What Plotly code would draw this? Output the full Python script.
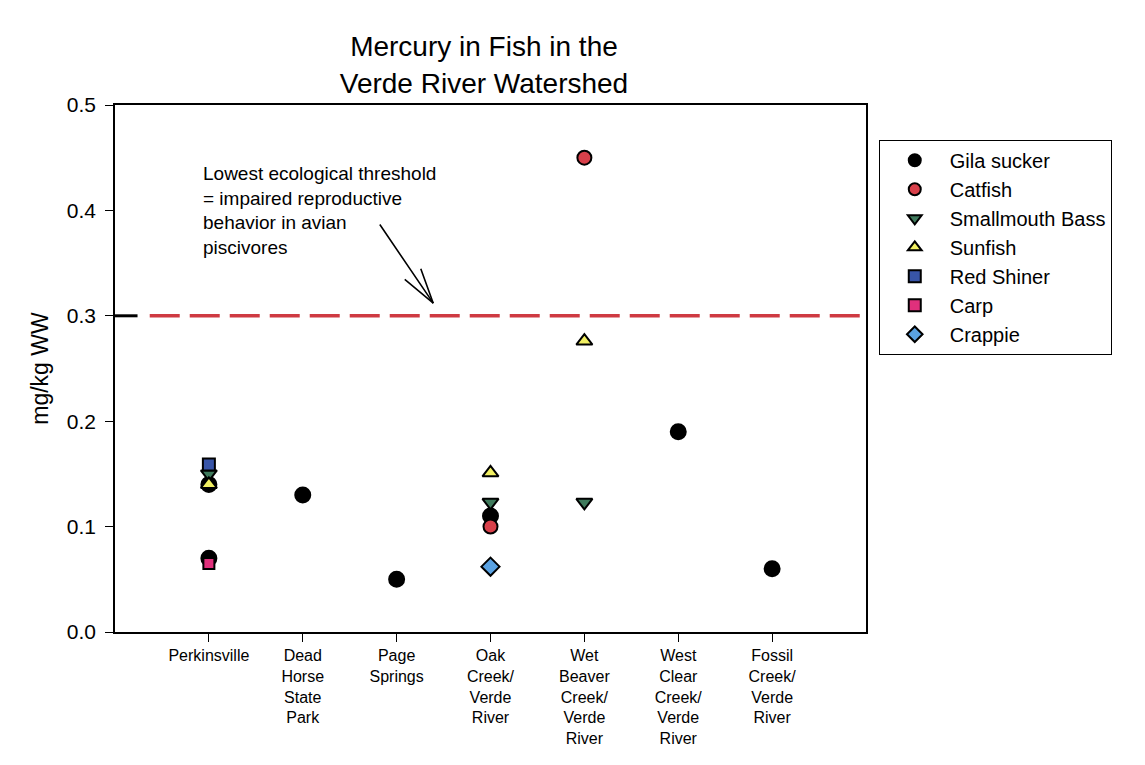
import plotly.graph_objects as go

sites = ["Perkinsville", "Dead Horse State Park", "Page Springs", "Oak Creek/Verde River",
         "Wet Beaver Creek/Verde River", "West Clear Creek/Verde River", "Fossil Creek/Verde River"]
site_labels = ["Perkinsville", "Dead<br>Horse<br>State<br>Park", "Page<br>Springs",
               "Oak<br>Creek/<br>Verde<br>River", "Wet<br>Beaver<br>Creek/<br>Verde<br>River",
               "West<br>Clear<br>Creek/<br>Verde<br>River", "Fossil<br>Creek/<br>Verde<br>River"]

gila_sites = ["Perkinsville", "Perkinsville", "Dead Horse State Park", "Page Springs",
              "Oak Creek/Verde River", "West Clear Creek/Verde River", "Fossil Creek/Verde River"]
gila_vals = [0.07, 0.14, 0.13, 0.05, 0.11, 0.19, 0.06]
catfish_sites = ["Oak Creek/Verde River", "Wet Beaver Creek/Verde River"]
catfish_vals = [0.10, 0.45]
bass_sites = ["Perkinsville", "Oak Creek/Verde River", "Wet Beaver Creek/Verde River"]
bass_vals = [0.15, 0.123, 0.123]
sunfish_sites = ["Perkinsville", "Oak Creek/Verde River", "Wet Beaver Creek/Verde River"]
sunfish_vals = [0.14, 0.151, 0.276]
shiner_sites = ["Perkinsville"]
shiner_vals = [0.159]
carp_sites = ["Perkinsville"]
carp_vals = [0.065]
crappie_sites = ["Oak Creek/Verde River"]
crappie_vals = [0.062]

threshold = 0.3

idx = {s: i for i, s in enumerate(sites)}

series = [
    ("Gila sucker", gila_sites, gila_vals, "circle", "#000000", 15),
    ("Catfish", catfish_sites, catfish_vals, "circle", "#d8404a", 14),
    ("Smallmouth Bass", bass_sites, bass_vals, "triangle-down", "#3f7a5c", 14),
    ("Sunfish", sunfish_sites, sunfish_vals, "triangle-up", "#f2f062", 14),
    ("Red Shiner", shiner_sites, shiner_vals, "square", "#3855a8", 12),
    ("Carp", carp_sites, carp_vals, "square", "#e0307c", 11),
    ("Crappie", crappie_sites, crappie_vals, "diamond", "#5aa2e2", 14),
]

font = "Arial, Liberation Sans, sans-serif"
fig = go.Figure()
for name, s, v, sym, col, sz in series:
    fig.add_trace(go.Scatter(
        x=[idx[k] for k in s], y=v, mode="markers", name=name,
        marker=dict(symbol=sym, color=col, size=sz, line=dict(color="black", width=2)),
    ))

# threshold dashed line
fig.add_shape(type="line", xref="x", yref="y", x0=-0.63, x1=7, y0=threshold, y1=threshold,
              line=dict(color="#cf3a42", width=3.5, dash="30px,10px"))
fig.add_shape(type="line", xref="x", yref="y", x0=-1, x1=-0.76, y0=threshold, y1=threshold,
              line=dict(color="black", width=3))

fig.add_annotation(x=-0.08, y=0.40, xref="x", yref="y", xanchor="left", yanchor="middle",
                   align="left", showarrow=False,
                   text="Lowest ecological threshold<br>= impaired reproductive<br>behavior in avian<br>piscivores",
                   font=dict(family=font, size=19, color="black"))
# arrow: shaft plus two thin barbs (open V head)
tip_x, tip_y = 2.39, 0.312
fig.add_annotation(x=tip_x, y=tip_y, ax=1.81, ay=0.388, xref="x", yref="y", axref="x", ayref="y",
                   showarrow=True, arrowhead=0, arrowwidth=1.6, arrowcolor="black", text="")
for bx, by in [(-30, -25), (-13, -36)]:
    fig.add_annotation(x=tip_x, y=tip_y, ax=bx, ay=by, xref="x", yref="y",
                       showarrow=True, arrowhead=0, arrowwidth=1.6, arrowcolor="black", text="")

fig.update_layout(
    width=1145, height=765,
    margin=dict(l=107, r=287, t=97, b=141),
    paper_bgcolor="white", plot_bgcolor="white",
    font=dict(family=font, color="black"),
    title=dict(text="Mercury in Fish in the<br>Verde River Watershed", x=0.4157,
               xanchor="center", y=0.937, yanchor="top", font=dict(size=28, family=font)),
    showlegend=True,
    legend=dict(x=1.017, y=0.934, xanchor="left", yanchor="top", bordercolor="black", borderwidth=1,
                font=dict(size=20, family=font), itemsizing="constant", itemwidth=60,
                tracegroupgap=0, bgcolor="white"),
)
fig.update_xaxes(range=[-1, 7], tickvals=list(range(len(sites))), ticktext=site_labels,
                 showgrid=False, zeroline=False, showline=True, linecolor="black", linewidth=1.5,
                 mirror=True, ticks="outside", ticklen=8, tickcolor="black",
                 tickfont=dict(size=16, family=font))
fig.update_yaxes(range=[0, 0.5], tickvals=[0, 0.1, 0.2, 0.3, 0.4, 0.5], tickformat=".1f",
                 showgrid=False, zeroline=False, showline=True, linecolor="black", linewidth=1.5,
                 mirror=True, ticks="outside", ticklen=8, tickcolor="black", ticklabelstandoff=5,
                 tickfont=dict(size=21, family=font),
                 title=dict(text="mg/kg WW", font=dict(size=23, family=font), standoff=12))

fig.write_html("out.html")
